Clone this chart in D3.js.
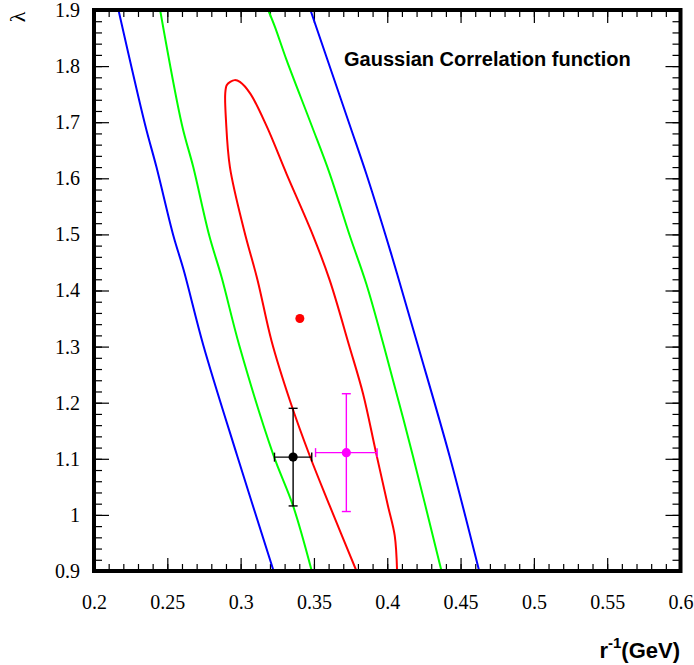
<!DOCTYPE html>
<html>
<head>
<meta charset="utf-8">
<script src="https://cdn.jsdelivr.net/npm/d3@7"></script>
<style>
  body { margin: 0; background: #fff; }
  .tick line { stroke: #000; stroke-width: 1.2; }
  .tick text { font-family: "Liberation Serif", "Times New Roman", serif; font-size: 20px; fill: #000; }
  .contour { fill: none; stroke-width: 2; }
</style>
</head>
<body>
<script>
// contour lines, [r^-1 (GeV), lambda]
var sigma3Left = [[0.2167,1.9],[0.2349,1.695],[0.2426,1.620],[0.2541,1.498],[0.2612,1.436],[0.2746,1.302],[0.2977,1.105],[0.3225,0.9]];
var sigma3Right = [[0.3476,1.9],[0.3744,1.695],[0.3857,1.608],[0.3989,1.498],[0.4067,1.430],[0.4209,1.302],[0.4425,1.105],[0.4627,0.9]];
var sigma2Left = [[0.2451,1.9],[0.2600,1.695],[0.2677,1.620],[0.2786,1.498],[0.2870,1.424],[0.2991,1.302],[0.3222,1.108],[0.3358,1.016],[0.3485,0.9]];
var sigma2Right = [[0.3188,1.9],[0.3234,1.870],[0.3313,1.811],[0.3483,1.695],[0.3608,1.608],[0.3744,1.498],[0.3857,1.412],[0.3976,1.302],[0.4175,1.105],[0.437,0.9]];
var sigma1 = [[0.379,0.9],[0.3608,1.016],[0.3472,1.105],[0.3336,1.204],[0.3210,1.311],[0.3116,1.418],[0.3024,1.507],[0.2927,1.620],[0.2900,1.704],[0.2895,1.751],[0.2905,1.766],[0.2929,1.772],[0.2960,1.775],[0.2995,1.772],[0.3066,1.751],[0.3179,1.692],[0.3313,1.608],[0.3494,1.498],[0.3608,1.418],[0.3740,1.302],[0.3835,1.216],[0.3921,1.114],[0.4005,1.016],[0.4051,0.963],[0.4067,0.9]];

var bestFit = [0.3404, 1.35];
// measurements with errors: x, y, xerr, yerr
var measBlack = {x: 0.3358, y: 1.103, ex: 0.0127, ey: 0.087};
var measMagenta = {x: 0.3721, y: 1.111, ex: 0.021, ey: 0.105};

var xMajor = [0.2, 0.25, 0.3, 0.35, 0.4, 0.45, 0.5, 0.55, 0.6];
var yMajor = [0.9, 1, 1.1, 1.2, 1.3, 1.4, 1.5, 1.6, 1.7, 1.8, 1.9];
var xMinor = d3.range(0.2, 0.6001, 0.01);
var yMinor = d3.range(0.9, 1.9001, 0.02);

var width = 694, height = 665;
var frame = {left: 94, right: 680.5, top: 10, bottom: 571};

var svg = d3.select("body").append("svg")
    .attr("width", width)
    .attr("height", height);

var x = d3.scaleLinear().domain([0.2, 0.6]).range([frame.left, frame.right]);
var y = d3.scaleLinear().domain([0.9, 1.9]).range([frame.bottom, frame.top]);

svg.append("defs").append("clipPath").attr("id", "plotclip")
    .append("rect")
    .attr("x", frame.left).attr("y", frame.top)
    .attr("width", frame.right - frame.left)
    .attr("height", frame.bottom - frame.top);

// ticks (all pointing inward)
function fmt(d) { return String(+d.toFixed(2)); }

svg.append("g").attr("transform", `translate(0,${frame.bottom})`)
    .call(d3.axisBottom(x).tickValues(xMinor).tickSizeInner(-7).tickSizeOuter(0).tickFormat(""));
svg.append("g").attr("transform", `translate(0,${frame.bottom})`)
    .call(d3.axisBottom(x).tickValues(xMajor).tickSizeInner(-13).tickSizeOuter(0).tickPadding(24).tickFormat(fmt));
svg.append("g").attr("transform", `translate(0,${frame.top})`)
    .call(d3.axisTop(x).tickValues(xMinor).tickSizeInner(-7).tickSizeOuter(0).tickFormat(""));
svg.append("g").attr("transform", `translate(0,${frame.top})`)
    .call(d3.axisTop(x).tickValues(xMajor).tickSizeInner(-13).tickSizeOuter(0).tickFormat(""));

svg.append("g").attr("transform", `translate(${frame.left},0)`)
    .call(d3.axisLeft(y).tickValues(yMinor).tickSizeInner(-8).tickSizeOuter(0).tickFormat(""));
svg.append("g").attr("transform", `translate(${frame.left},0)`)
    .call(d3.axisLeft(y).tickValues(yMajor).tickSizeInner(-15).tickSizeOuter(0).tickPadding(14).tickFormat(fmt));
svg.append("g").attr("transform", `translate(${frame.right},0)`)
    .call(d3.axisRight(y).tickValues(yMinor).tickSizeInner(-8).tickSizeOuter(0).tickFormat(""));
svg.append("g").attr("transform", `translate(${frame.right},0)`)
    .call(d3.axisRight(y).tickValues(yMajor).tickSizeInner(-15).tickSizeOuter(0).tickFormat(""));

svg.selectAll(".domain").remove();

// contours
var line = d3.line()
    .x(d => x(d[0]))
    .y(d => y(d[1]))
    .curve(d3.curveCatmullRom.alpha(0.5));

var plot = svg.append("g").attr("clip-path", "url(#plotclip)");

[[sigma3Left, "#0000ff"], [sigma3Right, "#0000ff"],
 [sigma2Left, "#00ff00"], [sigma2Right, "#00ff00"],
 [sigma1, "#ff0000"]].forEach(function(c) {
    plot.append("path")
        .datum(c[0])
        .attr("class", "contour")
        .attr("stroke", c[1])
        .attr("d", line);
});

plot.append("circle")
    .attr("cx", x(bestFit[0]))
    .attr("cy", y(bestFit[1]))
    .attr("r", 4.5)
    .attr("fill", "#ff0000");

function errorPoint(m, color) {
    var g = plot.append("g").attr("stroke", color).attr("stroke-width", 1.4);
    var cap = 4.5;
    g.append("line")
        .attr("x1", x(m.x - m.ex)).attr("x2", x(m.x + m.ex))
        .attr("y1", y(m.y)).attr("y2", y(m.y));
    g.append("line")
        .attr("x1", x(m.x)).attr("x2", x(m.x))
        .attr("y1", y(m.y - m.ey)).attr("y2", y(m.y + m.ey));
    [m.x - m.ex, m.x + m.ex].forEach(function(v) {
        g.append("line")
            .attr("x1", x(v)).attr("x2", x(v))
            .attr("y1", y(m.y) - cap).attr("y2", y(m.y) + cap);
    });
    [m.y - m.ey, m.y + m.ey].forEach(function(v) {
        g.append("line")
            .attr("x1", x(m.x) - cap).attr("x2", x(m.x) + cap)
            .attr("y1", y(v)).attr("y2", y(v));
    });
    plot.append("circle")
        .attr("cx", x(m.x)).attr("cy", y(m.y))
        .attr("r", 4.6)
        .attr("fill", color);
}
errorPoint(measBlack, "#000000");
errorPoint(measMagenta, "#ff00ff");

// frame
svg.append("rect")
    .attr("x", frame.left).attr("y", frame.top)
    .attr("width", frame.right - frame.left)
    .attr("height", frame.bottom - frame.top)
    .attr("fill", "none")
    .attr("stroke", "#000")
    .attr("stroke-width", 4);

// texts
svg.append("text")
    .attr("x", 344).attr("y", 66)
    .style("font-family", "'Liberation Sans', Arial, sans-serif")
    .style("font-weight", "bold")
    .style("font-size", "20px")
    .text("Gaussian Correlation function");

var xt = svg.append("text")
    .attr("x", 680).attr("y", 658)
    .attr("text-anchor", "end")
    .style("font-family", "'Liberation Sans', Arial, sans-serif")
    .style("font-weight", "bold")
    .style("font-size", "22px");
xt.append("tspan").text("r");
xt.append("tspan").attr("dy", -10).style("font-size", "15px").text("-1");
xt.append("tspan").attr("dy", 10).text("(GeV)");

svg.append("text")
    .attr("transform", "translate(17,17) rotate(-90)")
    .attr("text-anchor", "middle")
    .attr("dy", "0.35em")
    .style("font-family", "'Liberation Serif', 'Times New Roman', serif")
    .style("font-size", "22px")
    .text("λ");
</script>
</body>
</html>
